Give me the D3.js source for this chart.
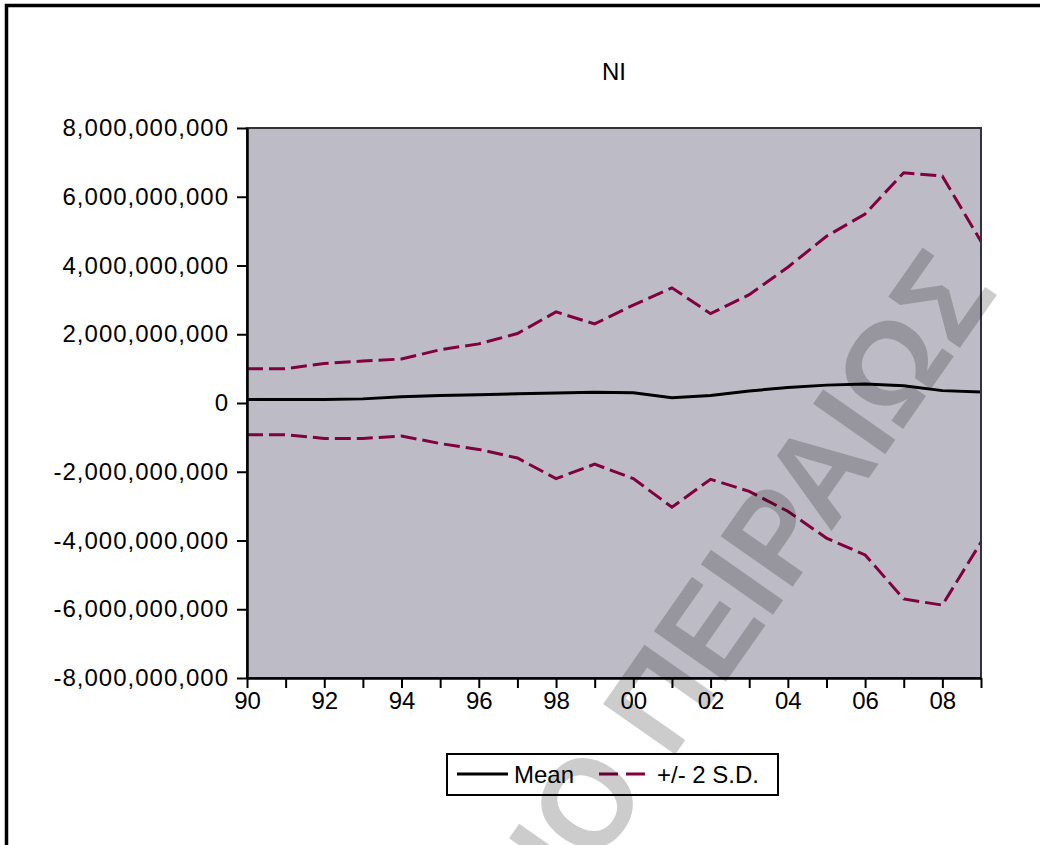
<!DOCTYPE html>
<html>
<head>
<meta charset="utf-8">
<script src="https://cdn.jsdelivr.net/npm/d3@7"></script>
<style>
  body { margin: 0; background: #fff; }
  text { font-family: "Liberation Sans", Arial, sans-serif; }
</style>
</head>
<body>
<svg id="chart" width="1040" height="845"></svg>
<script>
// NI - mean and +/- 2 S.D. bands
var years = [1990, 1991, 1992, 1993, 1994, 1995, 1996, 1997, 1998, 1999,
             2000, 2001, 2002, 2003, 2004, 2005, 2006, 2007, 2008, 2009];
var meanVals = [0.10e9, 0.10e9, 0.10e9, 0.12e9, 0.18e9, 0.22e9, 0.24e9, 0.27e9, 0.29e9, 0.31e9,
                0.30e9, 0.15e9, 0.22e9, 0.35e9, 0.45e9, 0.52e9, 0.55e9, 0.50e9, 0.36e9, 0.32e9];
var upperVals = [1.00e9, 1.00e9, 1.15e9, 1.22e9, 1.28e9, 1.55e9, 1.72e9, 2.02e9, 2.65e9, 2.30e9,
                 2.85e9, 3.35e9, 2.60e9, 3.15e9, 3.95e9, 4.85e9, 5.50e9, 6.70e9, 6.60e9, 4.70e9];
var lowerVals = [-0.92e9, -0.92e9, -1.03e9, -1.03e9, -0.96e9, -1.18e9, -1.35e9, -1.60e9, -2.20e9, -1.78e9,
                 -2.20e9, -3.03e9, -2.22e9, -2.57e9, -3.15e9, -3.93e9, -4.42e9, -5.70e9, -5.88e9, -4.05e9];
var yTicks = [-8e9, -6e9, -4e9, -2e9, 0, 2e9, 4e9, 6e9, 8e9];
var legendLabels = ["Mean", "+/- 2 S.D."];

var svg = d3.select("#chart"),
    margin = {top: 128, right: 59, bottom: 167, left: 247},
    width = +svg.attr("width") - margin.left - margin.right,
    height = +svg.attr("height") - margin.top - margin.bottom;

var bandColor = "#800040";

// outer frame (only top and left edges show)
svg.append("rect")
    .attr("x", 6.5).attr("y", 5.5)
    .attr("width", 1200).attr("height", 1000)
    .attr("fill", "none")
    .attr("stroke", "#000")
    .attr("stroke-width", 3.5);

var g = svg.append("g").attr("transform", "translate(" + margin.left + "," + margin.top + ")");

var x = d3.scaleLinear().domain([1990, 2009]).range([0, width]);
var y = d3.scaleLinear().domain([-8e9, 8e9]).range([height, 0]);

g.append("rect")
    .attr("width", width).attr("height", height)
    .attr("fill", "#bdbcc6");

var line = function(vals) {
  return d3.line()
      .x(function(d, i) { return x(years[i]); })
      .y(function(d) { return y(d); })(vals);
};

g.append("path").attr("d", line(upperVals))
    .attr("fill", "none").attr("stroke", bandColor)
    .attr("stroke-width", 3).attr("stroke-dasharray", "16,6");
g.append("path").attr("d", line(lowerVals))
    .attr("fill", "none").attr("stroke", bandColor)
    .attr("stroke-width", 3).attr("stroke-dasharray", "16,6");
g.append("path").attr("d", line(meanVals))
    .attr("fill", "none").attr("stroke", "#000")
    .attr("stroke-width", 3);

// plot frame
g.append("rect")
    .attr("width", width).attr("height", height)
    .attr("fill", "none").attr("stroke", "#333").attr("stroke-width", 2);

var fmt = d3.format(",");
var yAxis = g.append("g")
    .call(d3.axisLeft(y).tickValues(yTicks).tickSize(10).tickSizeOuter(0)
      .tickFormat(function(d) { return fmt(d).replace("\u2212", "-"); }));
var xAxis = g.append("g")
    .attr("transform", "translate(0," + height + ")")
    .call(d3.axisBottom(x).tickValues(years).tickSize(10).tickSizeOuter(0)
      .tickFormat(function(d) { return d % 2 === 0 ? String(d).slice(2) : ""; }));

[yAxis, xAxis].forEach(function(ax) {
  ax.select(".domain").attr("stroke", "#000").attr("stroke-width", 2.5);
  ax.selectAll(".tick line").attr("stroke", "#000").attr("stroke-width", 2);
  ax.selectAll(".tick text")
      .attr("fill", "#000")
      .style("font-family", "'Liberation Sans', Arial, sans-serif")
      .style("font-size", "24px");
});
yAxis.selectAll(".tick text").attr("x", -18).style("letter-spacing", "1px");
xAxis.selectAll(".tick text").attr("y", 14);

// title
svg.append("text")
    .attr("x", margin.left + width / 2)
    .attr("y", 80)
    .attr("text-anchor", "middle")
    .style("font-size", "24px")
    .attr("fill", "#000")
    .text("NI");

// legend
var lg = svg.append("g").attr("transform", "translate(447,754)");
lg.append("rect")
    .attr("width", 331).attr("height", 41)
    .attr("fill", "#fff").attr("stroke", "#000").attr("stroke-width", 2);
lg.append("line")
    .attr("x1", 10).attr("x2", 61).attr("y1", 20).attr("y2", 20)
    .attr("stroke", "#000").attr("stroke-width", 3);
lg.append("text")
    .attr("x", 67).attr("y", 29)
    .style("font-size", "24px")
    .text(legendLabels[0]);
lg.append("line")
    .attr("x1", 152).attr("x2", 200).attr("y1", 20).attr("y2", 20)
    .attr("stroke", bandColor).attr("stroke-width", 3)
    .attr("stroke-dasharray", "19,8");
lg.append("text")
    .attr("x", 210).attr("y", 29)
    .style("font-size", "24px")
    .text(legendLabels[1]);

// watermark
svg.append("text")
    .attr("transform", "translate(999,292) rotate(-55) scale(0.96,1)")
    .attr("text-anchor", "end")
    .style("font-size", "128px")
    .style("font-weight", "bold")
    .attr("fill", "#000")
    .attr("fill-opacity", 0.2)
    .text("ΠΑΝΕΠΙΣΤΗΜΙΟ ΠΕΙΡΑΙΩΣ");
</script>
</body>
</html>
